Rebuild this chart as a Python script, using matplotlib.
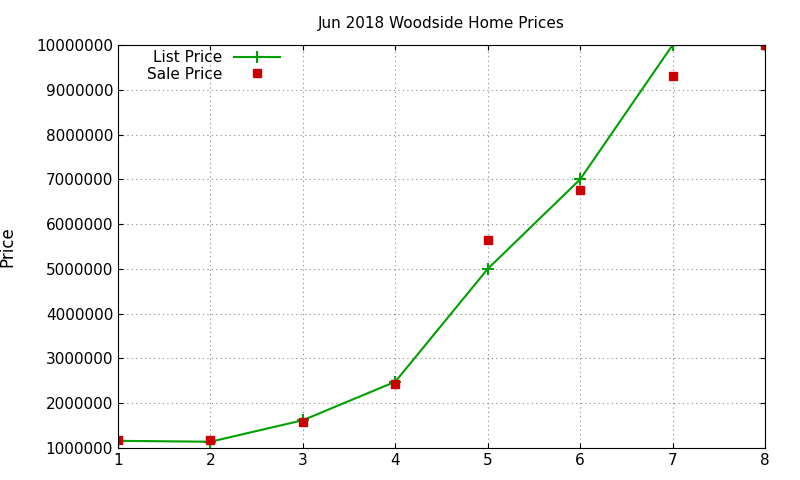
import matplotlib
matplotlib.use("Agg")
import matplotlib.pyplot as plt

# ── Data ──────────────────────────────────────────────────────────────────────
ranks       = [1, 2, 3, 4, 5, 6, 7, 8]
list_price  = [1160000, 1140000, 1620000, 2480000, 5000000, 7000000, 10000000, 10000000]
sale_price  = [1170000, 1170000, 1580000, 2430000, 5640000, 6770000, 9310000, 10000000]
y_ticks     = list(range(1000000, 10000001, 1000000))

# ── Plot ──────────────────────────────────────────────────────────────────────
fig = plt.figure(figsize=(8, 4.8), dpi=100)
ax = fig.add_axes([118 / 800, 32 / 480, 647 / 800, 403 / 480])

ax.plot(ranks, list_price, color="#00a000", linewidth=1.5, marker="+",
        markersize=8, markeredgewidth=1.5, label="List Price")
ax.plot(ranks, sale_price, color="#cc0000", linestyle="none", marker="s",
        markersize=6, label="Sale Price")

ax.set_xlim(1, 8)
ax.set_ylim(1000000, 10000000)
ax.set_yticks(y_ticks)
ax.set_yticklabels([str(v) for v in y_ticks])
ax.set_xticks(ranks)
ax.tick_params(labelsize=11, direction="in", top=True, right=True)
ax.grid(True, linestyle=(0, (1, 3)), color="#888888", linewidth=0.8)
ax.set_ylabel("Price", fontsize=12, labelpad=14)
ax.set_title("Jun 2018 Woodside Home Prices", fontsize=11, pad=12)

ax.legend(loc="upper left", markerfirst=False, frameon=False, fontsize=11,
          borderaxespad=0.2, handlelength=3, labelspacing=0.1,
          bbox_to_anchor=(0.03, 1.01))

fig.savefig("out.png", dpi=100)
